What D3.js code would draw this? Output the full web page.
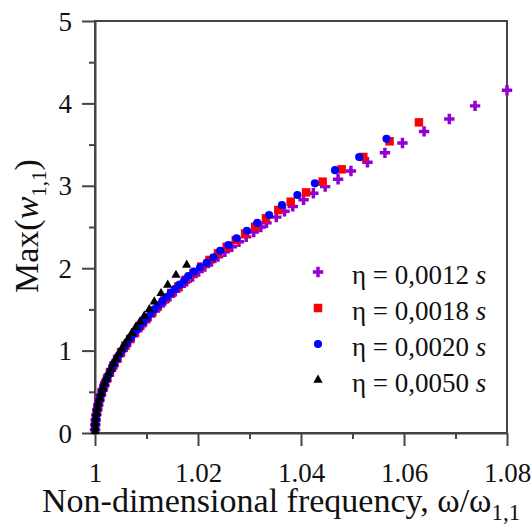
<!DOCTYPE html>
<html lang="en">
<head>
<meta charset="UTF-8"/>
<title>Max(w11) vs frequency</title>
<script src="https://d3js.org/d3.v7.min.js"></script>
<style>
  body { margin: 0; background: #fff; }
  text { font-family: "Liberation Serif", "Times New Roman", serif; fill: #111; }
</style>
</head>
<body>
<script>
// ticks
var xTicks = [1, 1.02, 1.04, 1.06, 1.08];
var xMinor = [1.01, 1.03, 1.05, 1.07];
var yTicks = [0, 1, 2, 3, 4, 5];
var yMinor = [0.5, 1.5, 2.5, 3.5, 4.5];
var legendLabels = ["0,0012", "0,0018", "0,0020", "0,0050"];

// eta = 0.0012 s (purple crosses), [frequency, max amplitude]
var eta0012 = [
  [1.00001, 0.04], [1.00006, 0.10], [1.00014, 0.16], [1.00027, 0.22], [1.00043, 0.28],
  [1.00063, 0.34], [1.00087, 0.40], [1.00115, 0.46], [1.00147, 0.52], [1.00183, 0.58],
  [1.00222, 0.64], [1.00266, 0.70], [1.00313, 0.76], [1.00363, 0.82], [1.00418, 0.88],
  [1.00476, 0.94], [1.00538, 1.00], [1.00603, 1.06], [1.00672, 1.12], [1.00745, 1.18],
  [1.00821, 1.24], [1.00901, 1.30], [1.00985, 1.36], [1.01072, 1.42], [1.01163, 1.48],
  [1.01257, 1.54], [1.01354, 1.60], [1.01456, 1.66], [1.0156, 1.72], [1.01668, 1.78],
  [1.0178, 1.84], [1.01895, 1.90], [1.02013, 1.96], [1.02135, 2.02], [1.0226, 2.08],
  [1.02389, 2.14], [1.02521, 2.20], [1.02656, 2.26], [1.02795, 2.32], [1.02936, 2.38],
  [1.03082, 2.44], [1.0322, 2.50], [1.0333, 2.55], [1.0352, 2.62], [1.0368, 2.69],
  [1.0384, 2.75], [1.0405, 2.83], [1.0424, 2.91], [1.0447, 2.99], [1.0472, 3.08],
  [1.0497, 3.18], [1.0529, 3.285], [1.0563, 3.40], [1.0597, 3.52], [1.0639, 3.66],
  [1.0688, 3.81], [1.0738, 3.97], [1.0800, 4.16]
];

// eta = 0.0018 s (red squares)
var eta0018 = [
  [1.00005, 0.10], [1.00017, 0.18], [1.00036, 0.26], [1.00062, 0.34], [1.00094, 0.42],
  [1.00134, 0.50], [1.0018, 0.58], [1.00232, 0.66], [1.00291, 0.74], [1.00357, 0.82],
  [1.00429, 0.90], [1.00507, 0.98], [1.00591, 1.06], [1.00681, 1.14], [1.00778, 1.22],
  [1.0088, 1.30], [1.00989, 1.38], [1.01103, 1.46], [1.01223, 1.54], [1.01349, 1.62],
  [1.01481, 1.70], [1.01618, 1.78], [1.01761, 1.86], [1.0191, 1.94], [1.02063, 2.02],
  [1.02223, 2.10], [1.02388, 2.18], [1.02558, 2.26], [1.02734, 2.34], [1.02914, 2.42],
  [1.0311, 2.504], [1.0332, 2.605], [1.0356, 2.706], [1.0380, 2.807], [1.0410, 2.92],
  [1.0442, 3.05], [1.0479, 3.20], [1.0521, 3.35], [1.0572, 3.54], [1.0629, 3.77]
];

// eta = 0.0020 s (blue circles)
var eta0020 = [
  [1.00001, 0.05], [1.00005, 0.10], [1.00012, 0.15], [1.00021, 0.20], [1.00033, 0.25],
  [1.00047, 0.30], [1.00064, 0.35], [1.00084, 0.40], [1.00107, 0.45], [1.00132, 0.50],
  [1.00159, 0.55], [1.00189, 0.60], [1.00222, 0.65], [1.00257, 0.70], [1.00295, 0.75],
  [1.00335, 0.80], [1.00377, 0.85], [1.00422, 0.90], [1.0047, 0.95], [1.0052, 1.00],
  [1.00572, 1.05], [1.00627, 1.10], [1.00684, 1.15], [1.00744, 1.20], [1.00806, 1.25],
  [1.0087, 1.30], [1.00937, 1.35], [1.01006, 1.40], [1.01078, 1.45], [1.01151, 1.50],
  [1.01228, 1.55], [1.01306, 1.60], [1.01387, 1.65], [1.0147, 1.70], [1.01555, 1.75],
  [1.01643, 1.80], [1.01733, 1.85], [1.0181, 1.905], [1.0192, 1.958], [1.0204, 2.011],
  [1.0217, 2.067], [1.0230, 2.132], [1.0243, 2.212], [1.0259, 2.282], [1.0275, 2.363],
  [1.0295, 2.455], [1.0315, 2.55], [1.0338, 2.646], [1.0363, 2.767], [1.0393, 2.888],
  [1.0427, 3.03], [1.0466, 3.19], [1.0513, 3.35], [1.0566, 3.57]
];

// eta = 0.0050 s (black triangles)
var eta0050 = [
  [1.0, 0.02], [1.00002, 0.06], [1.00007, 0.12], [1.00017, 0.18], [1.0003, 0.24],
  [1.00046, 0.30], [1.00066, 0.36], [1.0009, 0.42], [1.00118, 0.48], [1.0015, 0.54],
  [1.00184, 0.60], [1.00222, 0.66], [1.00264, 0.72], [1.00309, 0.78], [1.00357, 0.84],
  [1.00409, 0.90], [1.00463, 0.96], [1.0052, 1.02], [1.00579, 1.08], [1.00646, 1.145],
  [1.00713, 1.210], [1.0079, 1.283], [1.00874, 1.351], [1.00957, 1.420], [1.01054, 1.501],
  [1.01151, 1.593], [1.01282, 1.695], [1.01412, 1.796], [1.01573, 1.917], [1.01781, 2.039]
];

var w = 532, h = 529;
var plotLeft = 95, plotRight = 507, plotTop = 21, plotBottom = 433;
var axisColor = "#444";

var xScale = d3.scaleLinear().domain([1, 1.08]).range([plotLeft, plotRight]);
var yScale = d3.scaleLinear().domain([0, 5]).range([plotBottom, plotTop]);

var svg = d3.select("body").append("svg")
  .attr("width", w)
  .attr("height", h);

// frame
svg.append("rect")
  .attr("x", plotLeft).attr("y", plotTop)
  .attr("width", plotRight - plotLeft).attr("height", plotBottom - plotTop)
  .attr("fill", "none")
  .attr("stroke", axisColor)
  .attr("stroke-width", 2);

// x axis, major and minor
var xAxis = svg.append("g")
  .attr("transform", "translate(0," + plotBottom + ")")
  .call(d3.axisBottom(xScale).tickValues(xTicks).tickSize(13).tickSizeOuter(0)
    .tickFormat(function (d) { return d === 1 ? "1" : d3.format(".2f")(d); }));
svg.append("g")
  .attr("transform", "translate(0," + plotBottom + ")")
  .call(d3.axisBottom(xScale).tickValues(xMinor).tickSize(6).tickSizeOuter(0).tickFormat(""))
  .select(".domain").remove();

// y axis, major and minor
var yAxis = svg.append("g")
  .attr("transform", "translate(" + plotLeft + ",0)")
  .call(d3.axisLeft(yScale).tickValues(yTicks).tickSize(13).tickSizeOuter(0)
    .tickFormat(d3.format("d")));
svg.append("g")
  .attr("transform", "translate(" + plotLeft + ",0)")
  .call(d3.axisLeft(yScale).tickValues(yMinor).tickSize(6).tickSizeOuter(0).tickFormat(""))
  .select(".domain").remove();

svg.selectAll("g").attr("font-family", null);
svg.selectAll(".domain, .tick line")
  .attr("stroke", axisColor)
  .attr("stroke-width", 2);

xAxis.selectAll("text")
  .attr("y", 49).attr("dy", 0)
  .style("font-family", "'Liberation Serif', serif")
  .style("font-size", "27px")
  .attr("fill", "#111");
yAxis.selectAll("text")
  .attr("x", -23).attr("dy", "0.34em")
  .style("font-family", "'Liberation Serif', serif")
  .style("font-size", "27px")
  .attr("fill", "#111");

// data markers
var series = [
  { data: eta0012, type: d3.symbolCross, size: 60, color: "#9400d3" },
  { data: eta0018, type: d3.symbolSquare, size: 72, color: "#ff0000" },
  { data: eta0020, type: d3.symbolCircle, size: 52, color: "#0000ff" },
  { data: eta0050, type: d3.symbolTriangle, size: 38, color: "#000000" }
];

series.forEach(function (s) {
  svg.append("g").selectAll("path")
    .data(s.data)
    .enter()
    .append("path")
    .attr("d", d3.symbol().type(s.type).size(s.size))
    .attr("transform", function (d) {
      return "translate(" + xScale(d[0]) + "," + yScale(d[1]) + ")";
    })
    .attr("fill", s.color);
});

// legend
var legend = svg.append("g");
series.forEach(function (s, i) {
  var y = 272 + i * 36;
  legend.append("path")
    .attr("d", d3.symbol().type(s.type).size(s.size))
    .attr("transform", "translate(318," + y + ")")
    .attr("fill", s.color);
  var t = legend.append("text")
    .attr("x", 352)
    .attr("y", y + 11.5)
    .style("font-size", "27px");
  t.append("tspan").text("\u03b7 = " + legendLabels[i] + " ");
  t.append("tspan").style("font-style", "italic").text("s");
});

// x axis title
var xt = svg.append("text")
  .attr("x", 42)
  .attr("y", 512)
  .style("font-size", "34px");
xt.append("tspan").text("Non-dimensional frequency, \u03c9/\u03c9");
xt.append("tspan").attr("dy", 8).style("font-size", "23px").text("1,1");

// y axis title
var yt = svg.append("text")
  .attr("transform", "translate(38,226) rotate(-90)")
  .attr("text-anchor", "middle")
  .style("font-size", "34px");
yt.append("tspan").text("Max(");
yt.append("tspan").style("font-style", "italic").text("w");
yt.append("tspan").attr("dy", 8).style("font-size", "21px").text("1,1");
yt.append("tspan").attr("dy", -8).text(")");
</script>
</body>
</html>
